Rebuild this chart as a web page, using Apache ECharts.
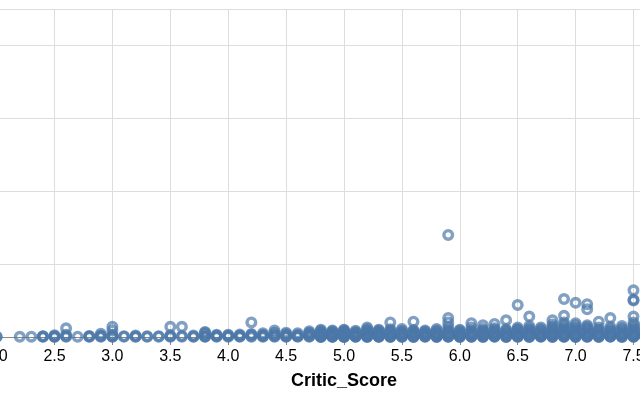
<!DOCTYPE html>
<html>
<head>
<meta charset="utf-8">
<script src="https://cdn.jsdelivr.net/npm/echarts@6/dist/echarts.min.js"></script>
<style>
  html, body { margin: 0; padding: 0; background: #fff; overflow: hidden; width: 640px; height: 400px; }
  #wrap { position: relative; width: 640px; height: 400px; overflow: hidden; }
  #chart { position: absolute; left: -235px; top: 0; width: 1158px; height: 400px; }
</style>
</head>
<body>
<div id="wrap"><div id="chart"></div></div>
<script>
// Critic_Score values (x) and the y-values of the points at each score
const scores = [2.0, 2.2, 2.3, 2.4, 2.5, 2.6, 2.7, 2.8, 2.9, 3.0, 3.1, 3.2, 3.3, 3.4, 3.5, 3.6, 3.7, 3.8, 3.9, 4.0,
  4.1, 4.2, 4.3, 4.4, 4.5, 4.6, 4.7, 4.8, 4.9, 5.0, 5.1, 5.2, 5.3, 5.4, 5.5, 5.6, 5.7, 5.8, 5.9, 6.0,
  6.1, 6.2, 6.3, 6.4, 6.5, 6.6, 6.7, 6.8, 6.9, 7.0, 7.1, 7.2, 7.3, 7.4, 7.5, 7.6];
const values = [
  [0.02, 0.05],
  [0.03],
  [0.04],
  [0.02, 0.06, 0.1],
  [0.02, 0.05, 0.1, 0.25],
  [0.03, 0.1, 0.3, 1.2],
  [0.05],
  [0.02, 0.08, 0.15],
  [0.03, 0.1, 0.2, 0.45],
  [0.02, 0.06, 0.1, 0.3, 0.9, 1.4],
  [0.04, 0.12],
  [0.02, 0.08, 0.2],
  [0.03, 0.1],
  [0.05, 0.12],
  [0.02, 0.1, 0.25, 1.4],
  [0.04, 0.15, 1.4],
  [0.02, 0.08, 0.2],
  [0.03, 0.08, 0.12, 0.4, 0.6, 0.7],
  [0.02, 0.1, 0.2, 0.3],
  [0.04, 0.12, 0.2, 0.3],
  [0.02, 0.1, 0.2, 0.35],
  [0.03, 0.15, 0.3, 0.4, 2.0],
  [0.02, 0.1, 0.2, 0.3, 0.5],
  [0.05, 0.1, 0.2, 0.4, 0.6, 0.9],
  [0.02, 0.08, 0.12, 0.3, 0.4, 0.6],
  [0.03, 0.1, 0.15, 0.3, 0.5],
  [0.02, 0.1, 0.2, 0.35, 0.5, 0.6, 0.8],
  [0.01, 0.03, 0.07, 0.1, 0.18, 0.25, 0.38, 0.5, 0.62, 0.7, 0.85, 1.0],
  [0.02, 0.05, 0.08, 0.12, 0.2, 0.3, 0.38, 0.45, 0.56, 0.65, 0.78, 0.9],
  [0.01, 0.04, 0.06, 0.1, 0.15, 0.2, 0.28, 0.35, 0.48, 0.6, 0.72, 0.8, 0.92, 1.0],
  [0.02, 0.04, 0.09, 0.15, 0.22, 0.3, 0.42, 0.5, 0.6, 0.7, 0.85],
  [0.01, 0.03, 0.1, 0.14, 0.25, 0.33, 0.4, 0.52, 0.65, 0.78, 0.9, 1.1, 1.3],
  [0.02, 0.05, 0.08, 0.12, 0.2, 0.3, 0.4, 0.5, 0.62, 0.75, 0.88, 1.0],
  [0.01, 0.05, 0.09, 0.15, 0.22, 0.35, 0.45, 0.6, 0.72, 0.9, 1.05, 2.0],
  [0.02, 0.04, 0.1, 0.16, 0.24, 0.3, 0.38, 0.45, 0.58, 0.7, 0.85, 1.1],
  [0.01, 0.03, 0.08, 0.2, 0.28, 0.4, 0.5, 0.6, 0.7, 0.8, 0.95, 2.1],
  [0.02, 0.06, 0.12, 0.18, 0.3, 0.38, 0.5, 0.62, 0.75, 0.9],
  [0.01, 0.04, 0.09, 0.15, 0.24, 0.35, 0.45, 0.6, 0.72, 0.9, 1.1],
  [0.02, 0.05, 0.1, 0.18, 0.3, 0.42, 0.55, 0.68, 0.8, 1.0, 1.4, 2.0, 2.6, 14.0],
  [0.01, 0.03, 0.08, 0.15, 0.22, 0.35, 0.45, 0.6, 0.72, 0.85, 1.0],
  [0.02, 0.05, 0.1, 0.16, 0.3, 0.4, 0.5, 0.62, 0.75, 0.9, 1.3, 1.9],
  [0.01, 0.04, 0.09, 0.2, 0.28, 0.4, 0.52, 0.65, 0.78, 0.9, 1.1, 1.6],
  [0.02, 0.06, 0.12, 0.18, 0.35, 0.45, 0.55, 0.68, 0.8, 1.0, 1.2, 1.8],
  [0.01, 0.03, 0.08, 0.15, 0.3, 0.42, 0.6, 0.72, 0.9, 1.05, 2.3],
  [0.02, 0.05, 0.1, 0.2, 0.3, 0.4, 0.5, 0.65, 0.8, 0.95, 1.1, 1.3, 4.4],
  [0.01, 0.04, 0.09, 0.2, 0.3, 0.45, 0.58, 0.7, 0.85, 1.0, 1.2, 1.5, 2.8],
  [0.02, 0.06, 0.12, 0.15, 0.25, 0.35, 0.48, 0.6, 0.75, 0.9, 1.1, 1.3],
  [0.01, 0.03, 0.1, 0.18, 0.3, 0.42, 0.55, 0.7, 0.85, 1.0, 1.2, 1.4, 1.7, 2.3],
  [0.02, 0.05, 0.1, 0.2, 0.3, 0.4, 0.55, 0.7, 0.85, 1.0, 1.2, 1.4, 1.7, 2.0, 2.9, 5.2],
  [0.01, 0.05, 0.08, 0.15, 0.25, 0.35, 0.48, 0.6, 0.78, 0.95, 1.1, 1.3, 1.6, 1.9, 4.7],
  [0.02, 0.04, 0.1, 0.18, 0.3, 0.42, 0.55, 0.7, 0.9, 1.05, 1.2, 1.4, 1.6, 3.8, 4.5],
  [0.01, 0.03, 0.09, 0.2, 0.3, 0.4, 0.52, 0.7, 0.85, 1.0, 1.3, 2.1],
  [0.02, 0.06, 0.12, 0.18, 0.35, 0.45, 0.6, 0.75, 0.9, 1.1, 1.4, 2.6],
  [0.01, 0.04, 0.1, 0.15, 0.25, 0.4, 0.52, 0.65, 0.8, 1.0, 1.2, 1.5],
  [0.02, 0.05, 0.1, 0.2, 0.3, 0.45, 0.6, 0.75, 0.9, 1.1, 1.3, 1.6, 2.0, 2.8, 5.0, 5.1, 6.4],
  [0.01, 0.03, 0.1, 0.2, 0.35, 0.5, 0.65, 0.8, 1.0, 1.2, 1.5, 1.8]
];
const xTitle = 'Critic_Score';

const points = [];
scores.forEach((s, i) => values[i].forEach(v => points.push([s, v])));

const chart = echarts.init(document.getElementById('chart'), null, { renderer: 'canvas' });
chart.setOption({
  animation: false,
  backgroundColor: '#ffffff',
  grid: { left: 0, right: 0, top: 9, bottom: 63, containLabel: false, outerBoundsMode: 'none' },
  xAxis: {
    type: 'value',
    min: 0, max: 10, interval: 0.5,
    name: xTitle,
    nameLocation: 'middle',
    nameGap: 35,
    nameTextStyle: { fontFamily: 'Liberation Sans, Arial, sans-serif', fontWeight: 'bold', fontSize: 18, color: '#000' },
    axisLine: { show: true, lineStyle: { color: '#888', width: 1 } },
    axisTick: { show: true, length: 8, lineStyle: { color: '#888' } },
    axisLabel: {
      margin: 12, fontSize: 16, color: '#000',
      fontFamily: 'Liberation Sans, Arial, sans-serif',
      formatter: v => v.toFixed(1)
    },
    splitLine: { show: true, lineStyle: { color: '#ddd', width: 1 } }
  },
  yAxis: {
    type: 'value',
    min: 0, max: 45, interval: 10,
    axisLine: { show: false },
    axisTick: { show: false },
    axisLabel: { show: false },
    splitLine: { show: true, lineStyle: { color: '#ddd', width: 1 } }
  },
  series: [{
    type: 'scatter',
    data: points,
    symbol: 'circle',
    symbolSize: 8.6,
    clip: false,
    itemStyle: {
      color: 'rgba(0,0,0,0)',
      borderColor: '#4c78a8',
      borderWidth: 3.4,
      opacity: 0.7
    }
  }]
});
</script>
</body>
</html>
